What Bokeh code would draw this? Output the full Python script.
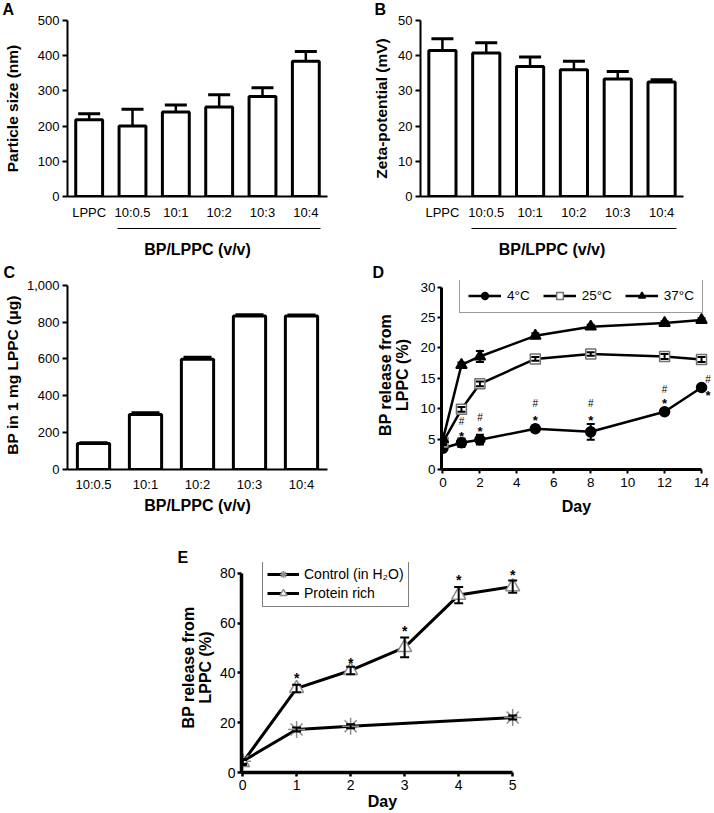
from bokeh.plotting import figure
from bokeh.layouts import column, row
from bokeh.models import (Range1d, FixedTicker, LinearAxis, Whisker, TeeHead,
                          ColumnDataSource, Legend, LegendItem, NumeralTickFormatter)
from bokeh.embed import file_html
from bokeh.resources import INLINE
from bokeh.core.properties import value

FONT = "Liberation Sans"

# ---------------- data ----------------
# A: particle size
size_cats = ["LPPC", "10:0.5", "10:1", "10:2", "10:3", "10:4"]
size_mean = [218, 200, 240, 254, 284, 384]
size_err = [17, 48, 20, 35, 25, 28]
size_ticks = [0, 100, 200, 300, 400, 500]
# B: zeta potential
zeta_mean = [41.5, 40.8, 36.9, 36.0, 33.4, 32.5]
zeta_err = [3.3, 2.9, 2.7, 2.4, 2.1, 0.7]
zeta_ticks = [0, 10, 20, 30, 40, 50]
# C: loading
load_cats = ["10:0.5", "10:1", "10:2", "10:3", "10:4"]
load_mean = [141, 298, 598, 833, 833]
load_err = [4, 10, 12, 7, 6]
load_ticks = [0, 200, 400, 600, 800, 1000]
# D: release at temperatures
release_days = [0, 1, 2, 5, 8, 12, 14]
rel_4c = [3.5, 4.4, 4.9, 6.7, 6.2, 9.5, 13.5]
rel_4c_err = [0.5, 0.7, 0.8, 0.5, 1.3, 0.3, 0.3]
rel_25c = [4.5, 9.9, 14.1, 18.2, 19.0, 18.6, 18.1]
rel_25c_err = [0.3, 0.4, 0.4, 0.3, 0.3, 0.4, 0.4]
rel_37c = [5.0, 17.2, 18.6, 22.0, 23.5, 24.1, 24.6]
rel_37c_err = [0.3, 0.4, 0.9, 0.4, 0.3, 0.3, 0.3]
d_xticks = [0, 2, 4, 6, 8, 10, 12, 14]
d_yticks = [0, 5, 10, 15, 20, 25, 30]
sig_d_days = [1, 2, 5, 8, 12, 14.35]
sig_d_star = [6.0, 6.8, 8.5, 8.5, 11.3, 12.7]
sig_d_hash = [7.9, 8.5, 10.8, 10.8, 13.2, 14.8]
# E: release in protein-rich medium
ctrl_days = [0, 1, 2, 5]
ctrl_vals = [4.5, 17.3, 18.6, 22.1]
ctrl_err = [1.0, 0.8, 0.8, 0.8]
prot_days = [0, 1, 2, 3, 4, 5]
prot_vals = [4.0, 33.8, 41.0, 50.3, 71.3, 74.7]
prot_err = [1.0, 1.5, 1.5, 4.0, 3.3, 2.5]
e_xticks = [0, 1, 2, 3, 4, 5]
e_yticks = [0, 20, 40, 60, 80]
sig_e_days = [1, 2, 3, 4, 5]
sig_e_star = [39.0, 45.4, 57.9, 78.4, 80.4]


# ---------------- helpers ----------------
def base_fig(w, h, bl, br, bt, bb, xr, yr):
    p = figure(width=w, height=h, x_range=xr, y_range=yr, output_backend="svg",
               toolbar_location=None, min_border_left=bl, min_border_right=br,
               min_border_top=bt, min_border_bottom=bb)
    p.grid.visible = False
    p.outline_line_color = None
    p.background_fill_color = "white"
    p.border_fill_color = "white"
    return p


def style_axis(ax, lw=2, tick_out=5, lab_size="13px", standoff=3,
               title_size="16px", title_standoff=5):
    ax.axis_line_width = lw
    ax.axis_line_color = "black"
    ax.major_tick_out = tick_out
    ax.major_tick_in = 0
    ax.major_tick_line_width = lw
    ax.major_tick_line_color = "black" if tick_out > 0 else None
    ax.minor_tick_line_color = None
    ax.major_label_text_font = FONT
    ax.major_label_text_font_size = lab_size
    ax.major_label_text_color = "black"
    ax.major_label_standoff = standoff
    ax.axis_label_text_font = FONT
    ax.axis_label_text_font_style = "bold"
    ax.axis_label_text_font_size = title_size
    ax.axis_label_text_color = "black"
    ax.axis_label_standoff = title_standoff


def letter(p, txt, offset, valign, standoff):
    p.title.text = txt
    p.title.align = "left"
    p.title.offset = offset
    p.title.vertical_align = valign
    p.title.standoff = standoff
    p.title.text_font = FONT
    p.title.text_font_size = "16px"
    p.title.text_font_style = "bold"
    p.title.text_color = "black"


def bar_panel(cats, means, errs, w, h, bl, br, bt, bb, ymax, yend, yticks, ytitle,
              ytitle_standoff, cap, bracket, xlab_standoff, xtitle_standoff, yfmt=None):
    n = len(cats)
    p = base_fig(w, h, bl, br, bt, bb, Range1d(-0.5, n - 0.5), Range1d(0, yend))
    xs = list(range(n))
    src = ColumnDataSource(dict(x=xs, top=means, up=[m + e for m, e in zip(means, errs)]))
    p.add_layout(Whisker(source=src, base="x", lower="top", upper="up", dimension="height",
                         lower_head=None,
                         upper_head=TeeHead(size=cap, line_width=3, line_color="black"),
                         line_width=2.5, line_color="black"))
    p.vbar(x="x", top="top", width=0.62, source=src, fill_color="white",
           line_color="black", line_width=3)
    ya = p.yaxis[0]
    style_axis(ya, lw=2, tick_out=5, lab_size="13px", standoff=3,
               title_size="15.5px", title_standoff=ytitle_standoff)
    ya.ticker = FixedTicker(ticks=yticks)
    ya.bounds = (0, ymax)
    ya.axis_label = ytitle
    if yfmt is not None:
        ya.formatter = yfmt
    xa = p.xaxis[0]
    style_axis(xa, lw=2, tick_out=0, lab_size="13px", standoff=xlab_standoff,
               title_size="16px", title_standoff=xtitle_standoff)
    xa.ticker = FixedTicker(ticks=xs)
    xa.major_label_overrides = {i: c for i, c in enumerate(cats)}
    if bracket:
        xa.axis_label = " "
        xa.axis_label_text_font_size = "3px"
        xa.axis_label_standoff = 0
        br_ax = LinearAxis(ticker=FixedTicker(ticks=[]), bounds=(0.655, n - 1 + 0.345),
                           axis_label="BP/LPPC (v/v)")
        style_axis(br_ax, lw=1, tick_out=0, lab_size="13px", standoff=0,
                   title_size="16px", title_standoff=xtitle_standoff)
        br_ax.axis_line_width = 1
        p.add_layout(br_ax, "below")
    else:
        xa.axis_label = "BP/LPPC (v/v)"
    return p


# ---------------- panels A, B, C ----------------
pA = bar_panel(size_cats, size_mean, size_err, 357, 265, 67, 30, 20, 69, 500, 500,
               size_ticks, "Particle size (nm)", 14, 22, True, 8, 12)
letter(pA, "A", -65, "top", 1)

pB = bar_panel(size_cats, zeta_mean, zeta_err, 356, 265, 63, 30, 20, 69, 50, 50,
               zeta_ticks, "Zeta-potential (mV)", 5, 22, True, 8, 12)
letter(pB, "B", -46, "top", 1)

pC = bar_panel(load_cats, load_mean, load_err, 357, 264, 67, 30, 15, 60, 1000, 1026,
               load_ticks, "BP in 1 mg LPPC (\u03bcg)", 3, 28, False, 7, 2,
               yfmt=NumeralTickFormatter(format="0,0"))
letter(pC, "C", -64, "top", -4)

# ---------------- panel D ----------------
pD = base_fig(356, 264, 84, 2, 15, 60, Range1d(-0.08, 14.54), Range1d(0, 31.1))
series = [
    ("4\u00b0C", rel_4c, rel_4c_err, "circle", "black", "black", 10),
    ("25\u00b0C", rel_25c, rel_25c_err, "square", "white", "#707070", 10),
    ("37\u00b0C", rel_37c, rel_37c_err, "triangle", "black", "black", 11),
]
items = []
for lab, vals, errs, mk, fc, lc, sz in series:
    src = ColumnDataSource(dict(x=release_days, y=vals,
                                lo=[v - e for v, e in zip(vals, errs)],
                                hi=[v + e for v, e in zip(vals, errs)]))
    ln = pD.line("x", "y", source=src, line_color="black", line_width=2.5)
    pD.add_layout(Whisker(source=src, base="x", lower="lo", upper="hi", dimension="height",
                          lower_head=TeeHead(size=8, line_width=2, line_color="black"),
                          upper_head=TeeHead(size=8, line_width=2, line_color="black"),
                          line_width=2, line_color="black", level="overlay"))
    sc = pD.scatter("x", "y", source=src, marker=mk, size=sz, fill_color=fc,
                    line_color=lc, line_width=1.5)
    items.append(LegendItem(label=lab, renderers=[ln, sc]))

pD.text(x=sig_d_days, y=sig_d_star, text=value("*"), text_font=value(FONT),
        text_font_size=value("13px"), text_font_style="bold", text_align="center",
        text_baseline="middle", y_offset=3, text_color="black")
pD.text(x=sig_d_days, y=sig_d_hash, text=value("#"), text_font=value(FONT),
        text_font_size=value("10px"), text_align="center", text_baseline="middle",
        text_color="black")

legD = Legend(items=items, orientation="horizontal", location=(18, 156), margin=0,
              padding=8, spacing=13, glyph_width=33, glyph_height=17, label_height=17,
              label_standoff=6, label_text_font=FONT, label_text_font_size="13.5px",
              label_text_color="black", border_line_color="#333333",
              border_line_width=1.5, background_fill_color="white",
              background_fill_alpha=1.0)
pD.add_layout(legD)

ydA = pD.yaxis[0]
style_axis(ydA, lw=3, tick_out=4, lab_size="13.5px", standoff=2, title_size="16px",
           title_standoff=6)
ydA.ticker = FixedTicker(ticks=d_yticks)
ydA.bounds = (0, 30)
ydA.axis_label = "BP release from\nLPPC (%)"
ydA.axis_label_text_line_height = 1.0
ydA.major_tick_line_width = 2
xdA = pD.xaxis[0]
style_axis(xdA, lw=3, tick_out=4, lab_size="13.5px", standoff=4, title_size="16px",
           title_standoff=8)
xdA.ticker = FixedTicker(ticks=d_xticks)
xdA.bounds = (-0.08, 14)
xdA.axis_label = "Day"
xdA.major_tick_line_width = 2
letter(pD, "D", -69, "top", -4)

# ---------------- panel E ----------------
pE = base_fig(713, 283, 241, 190, 33, 40, Range1d(-0.02, 5.2), Range1d(0, 84.4))
srcC = ColumnDataSource(dict(x=ctrl_days, y=ctrl_vals,
                             lo=[v - e for v, e in zip(ctrl_vals, ctrl_err)],
                             hi=[v + e for v, e in zip(ctrl_vals, ctrl_err)]))
srcP = ColumnDataSource(dict(x=prot_days, y=prot_vals,
                             lo=[v - e for v, e in zip(prot_vals, prot_err)],
                             hi=[v + e for v, e in zip(prot_vals, prot_err)]))
lnC = pE.line("x", "y", source=srcC, line_color="black", line_width=3)
lnP = pE.line("x", "y", source=srcP, line_color="black", line_width=3)
scC = pE.scatter("x", "y", source=srcC, marker="asterisk", size=17, line_color="#8c8c8c",
                 line_width=1.5)
scP = pE.scatter("x", "y", source=srcP, marker="triangle", size=14, fill_color="white",
                 line_color="#8c8c8c", line_width=1.5)
for s in (srcC, srcP):
    pE.add_layout(Whisker(source=s, base="x", lower="lo", upper="hi", dimension="height",
                          lower_head=TeeHead(size=9, line_width=2, line_color="black"),
                          upper_head=TeeHead(size=9, line_width=2, line_color="black"),
                          line_width=2, line_color="black", level="overlay"))
pE.text(x=sig_e_days, y=sig_e_star, text=value("*"), text_font=value(FONT),
        text_font_size=value("14px"), text_font_style="bold", text_align="center",
        text_baseline="middle", y_offset=3, text_color="black")

legE = Legend(items=[LegendItem(label="Control (in H\u2082O)", renderers=[lnC, scC]),
                     LegendItem(label="Protein rich", renderers=[lnP, scP])],
              orientation="vertical", location=(21, 165), margin=0, padding=4, spacing=1,
              glyph_width=32, glyph_height=18, label_height=18, label_standoff=5,
              label_text_font=FONT, label_text_font_size="14px",
              label_text_color="black", border_line_color="black", border_line_width=1.3,
              background_fill_color="white", background_fill_alpha=1.0)
pE.add_layout(legE)

yeA = pE.yaxis[0]
style_axis(yeA, lw=3.5, tick_out=4, lab_size="14px", standoff=2, title_size="16px",
           title_standoff=3)
yeA.ticker = FixedTicker(ticks=e_yticks)
yeA.bounds = (0, 80)
yeA.axis_label = "BP release from\nLPPC (%)"
yeA.axis_label_text_line_height = 1.0
yeA.major_tick_line_width = 2.5
xeA = pE.xaxis[0]
style_axis(xeA, lw=3.5, tick_out=4, lab_size="14px", standoff=3, title_size="16px",
           title_standoff=0)
xeA.ticker = FixedTicker(ticks=e_xticks)
xeA.bounds = (-0.02, 5)
xeA.axis_label = "Day"
xeA.major_tick_line_width = 2.5
letter(pE, "E", -64, "bottom", -6)

layout = column(row(pA, pB), row(pC, pD), pE)
open("out.html", "w").write(file_html(layout, INLINE))
